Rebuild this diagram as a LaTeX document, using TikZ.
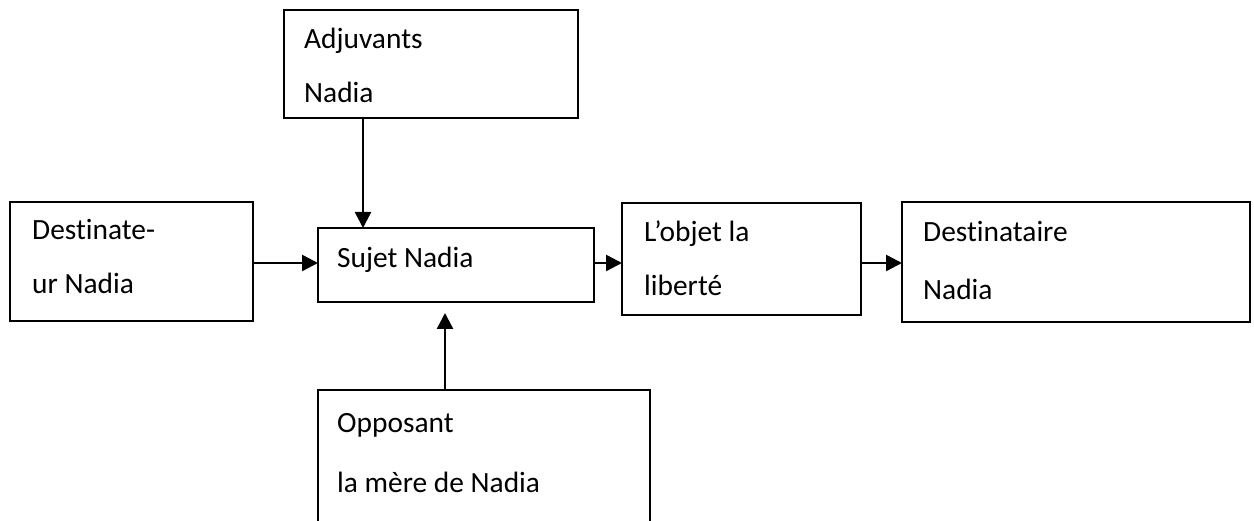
\documentclass[tikz,border=0pt]{standalone}
\usepackage{fontspec}
\setmainfont{Carlito}[Ligatures={NoCommon}]
\usetikzlibrary{arrows.meta,calc}
\begin{document}
\begin{tikzpicture}[x=1pt,y=-1pt,
  box/.style={draw,line width=2pt,anchor=north west,inner sep=0pt,outer sep=0pt},
  lbl/.style={anchor=base west,inner sep=0pt,font=\fontsize{29.4}{35}\selectfont},
  arr/.style={line width=2.4pt,-{Triangle[length=16pt,width=16pt]}}]
\useasboundingbox (0,0) rectangle (1254,521);
\clip (0,0) rectangle (1254,521);
% boxes
\node[box,minimum width=294pt,minimum height=108pt] (adj) at (284,10) {};
\node[box,minimum width=243pt,minimum height=119pt] (des) at (10,202) {};
\node[box,minimum width=276pt,minimum height=74pt] (suj) at (318,228) {};
\node[box,minimum width=239pt,minimum height=112pt] (obj) at (622,203) {};
\node[box,minimum width=348pt,minimum height=120pt] (dst) at (902,202) {};
\node[box,minimum width=332pt,minimum height=170pt] (opp) at (318,390) {};
% labels
\node[lbl] (adj1) at (304,49) {Adjuvants};
\node[lbl] (adj2) at (304,103) {Nadia};
\node[lbl] (des1) at (32,240) {Destinate-};
\node[lbl] (des2) at (32,294) {ur Nadia};
\node[lbl] (suj1) at (337,268) {Sujet Nadia};
\node[lbl] (obj1) at (644,242) {L’objet la};
\node[lbl] (obj2) at (644,296) {liberté};
\node[lbl] (dst1) at (923,242) {Destinataire};
\node[lbl] (dst2) at (923,300) {Nadia};
\node[lbl] (opp1) at (337,432) {Opposant};
\node[lbl] (opp2) at (337,492) {la mère de Nadia};
% connectors
\draw[arr] ([xshift=79pt]adj.south west) -- ([xshift=45pt]suj.north west);
\draw[arr] ([xshift=127pt]opp.north west) -- ([xshift=127pt,yshift=-11pt]suj.south west);
\draw[arr] (des.east |- 0,263) -- (suj.west |- 0,263);
\draw[arr] (suj.east |- 0,263) -- (obj.west |- 0,263);
\draw[arr] (obj.east |- 0,263) -- (dst.west |- 0,263);
\end{tikzpicture}
\end{document}
